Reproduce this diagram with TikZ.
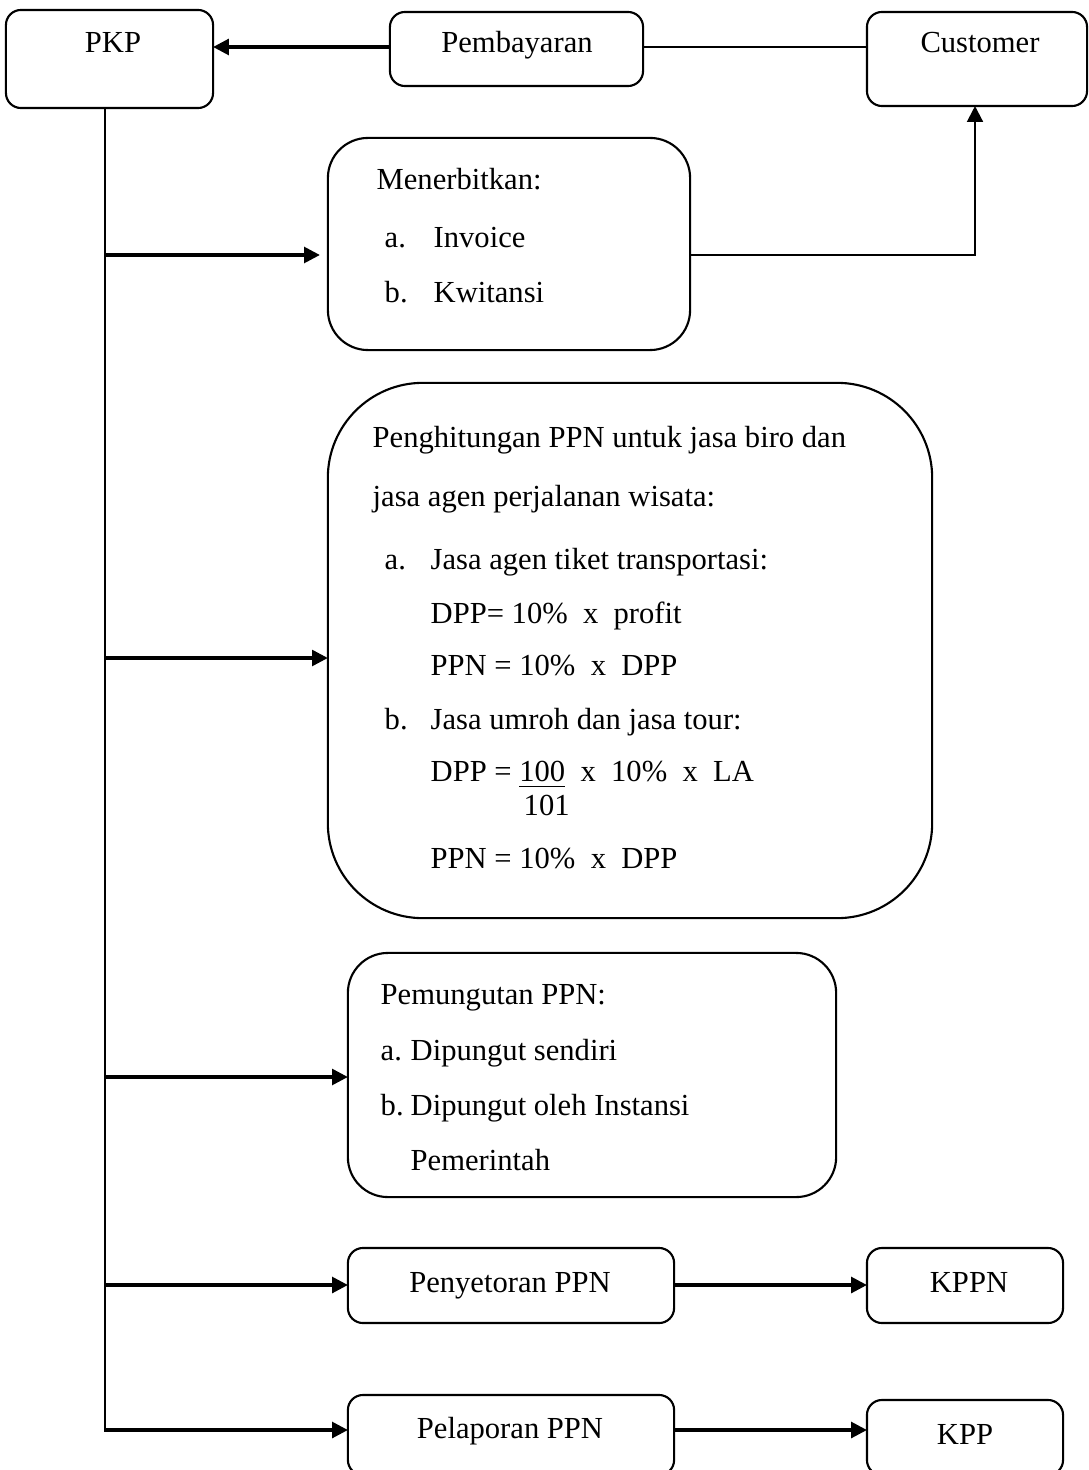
\documentclass[tikz,border=0pt]{standalone}
\usepackage{fontspec}
\setmainfont{Liberation Serif}
\usetikzlibrary{arrows.meta}

\begin{document}
\begin{tikzpicture}[x=0.01cm, y=-0.01cm,
	box/.style={draw, rounded corners=0.15cm, line width=0.6pt, inner sep=0, outer sep=0},
	txt/.style={anchor=base west, inner sep=0, font=\fontsize{8.7}{10}\selectfont},
	ctxt/.style={anchor=base, inner sep=0, font=\fontsize{8.7}{10}\selectfont},
	arr/.style={-{Triangle[length=4.5pt, width=4.5pt]}, line width=0.9pt}]
	\useasboundingbox (0,0) rectangle (1089,1470);

	\node[box, minimum width=2.07cm, minimum height=0.98cm] (pkp) at (109.5,59) {};
	\node[box, minimum width=2.53cm, minimum height=0.74cm] (bayar) at (516.5,49) {};
	\node[box, minimum width=2.20cm, minimum height=0.94cm] (cust) at (977,59) {};
	\node[ctxt] (pkptxt) at (113,53) {PKP};
	\node[ctxt] (bayartxt) at (517,53) {Pembayaran};
	\node[ctxt] (custtxt) at (980,53) {Customer};

	\node[box, rounded corners=0.4cm, minimum width=3.62cm, minimum height=2.12cm] (terbit) at (509,244) {};
	\node[txt] (terbit0) at (376,190) {Menerbitkan:};
	\node[txt] (terbita) at (384,248) {a.};
	\node[txt] (terbitai) at (433,248) {Invoice};
	\node[txt] (terbitb) at (384,303) {b.};
	\node[txt] (terbitbi) at (433,303) {Kwitansi};

	\node[box, rounded corners=0.95cm, minimum width=6.04cm, minimum height=5.35cm] (hitung) at (630,650.5) {};
	\node[txt] (hitung0) at (372,448) {Penghitungan PPN untuk jasa biro dan};
	\node[txt] (hitung1) at (372,506) {jasa agen perjalanan wisata:};
	\node[txt] (hitunga) at (384,569) {a.};
	\node[txt] (hitungai) at (430,569) {Jasa agen tiket transportasi:};
	\node[txt] (hitungaii) at (430,623) {DPP= 10\%\ \ x\ \ profit};
	\node[txt] (hitungaiii) at (430,675) {PPN = 10\%\ \ x\ \ DPP};
	\node[txt] (hitungb) at (384,729) {b.};
	\node[txt] (hitungbi) at (430,729) {Jasa umroh dan jasa tour:};
	\node[txt] (hitungbii) at (430,781) {DPP = \underline{100}\ \ x\ \ 10\%\ \ x\ \ LA};
	\node[txt] (hitungbiii) at (523,815) {101};
	\node[txt] (hitungbiv) at (430,868) {PPN = 10\%\ \ x\ \ DPP};

	\node[box, rounded corners=0.4cm, minimum width=4.88cm, minimum height=2.44cm] (pungut) at (592,1075) {};
	\node[txt] (pungut0) at (380,1004) {Pemungutan PPN:};
	\node[txt] (punguta) at (380,1060) {a.};
	\node[txt] (pungutai) at (410,1060) {Dipungut sendiri};
	\node[txt] (pungutb) at (380,1115) {b.};
	\node[txt] (pungutbi) at (410,1115) {Dipungut oleh Instansi};
	\node[txt] (pungutbii) at (410,1170) {Pemerintah};

	\node[box, minimum width=3.26cm, minimum height=0.75cm] (setor) at (511,1285.5) {};
	\node[box, minimum width=1.96cm, minimum height=0.75cm] (kppn) at (965,1285.5) {};
	\node[ctxt] (setortxt) at (510,1292) {Penyetoran PPN};
	\node[ctxt] (kppntxt) at (969,1292) {KPPN};

	\node[box, minimum width=3.26cm, minimum height=0.80cm] (lapor) at (511,1435) {};
	\node[box, minimum width=1.96cm, minimum height=0.75cm] (kpp) at (965,1437.5) {};
	\node[ctxt] (laportxt) at (510,1438) {Pelaporan PPN};
	\node[ctxt] (kpptxt) at (965,1444) {KPP};

	\coordinate (trunktop) at (105,108);
	\coordinate (trunkend) at (105,1432);
	\coordinate (b1) at (105,255);
	\coordinate (b2) at (105,658);
	\coordinate (b3) at (105,1077);
	\coordinate (b4) at (105,1285);
	\coordinate (b5) at (105,1430);
	\coordinate (elbow) at (975,255);

	\draw[line width=0.55pt] (trunktop) -- (trunkend);
	\draw[arr] (bayar.west |- 0,47) -- (pkp.east |- 0,47);
	\draw[line width=0.7pt] (bayar.east |- 0,47) -- (cust.west |- 0,47);

	\draw[arr, shorten >=0.08cm] (b1) -- (terbit.west |- b1);
	\draw[arr] (b2) -- (hitung.west |- b2);
	\draw[arr] (b3) -- (pungut.west |- b3);
	\draw[arr] (b4) -- (setor.west |- b4);
	\draw[arr] (b5) -- (lapor.west |- b5);

	\draw[-{Triangle[length=4.5pt, width=4.5pt]}, line width=0.6pt] (terbit.east |- elbow) -- (elbow) -- (cust.south -| elbow);
	\draw[arr] (setor.east |- b4) -- (kppn.west |- b4);
	\draw[arr] (lapor.east |- b5) -- (kpp.west |- b5);
\end{tikzpicture}
\end{document}
